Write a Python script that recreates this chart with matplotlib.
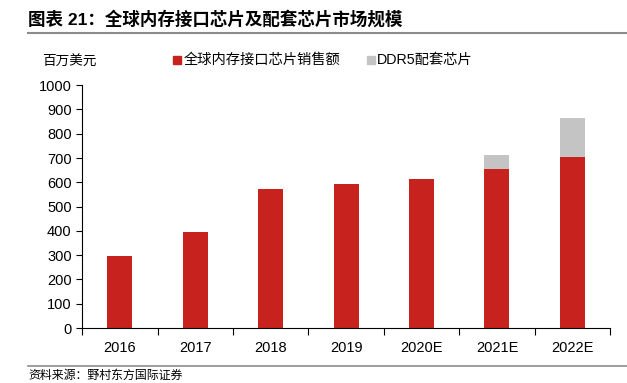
import numpy as np
import matplotlib
matplotlib.use('Agg')
import matplotlib.pyplot as plt
from matplotlib.patches import Rectangle

plt.rcParams['font.family'] = ['Liberation Sans', 'Noto Sans CJK SC', 'DejaVu Sans']
cjk = ['Noto Sans CJK SC', 'DejaVu Sans']

years = ['2016', '2017', '2018', '2019', '2020E', '2021E', '2022E']
chip_sales = [295, 395, 572, 592, 614, 655, 705]
ddr5_chips = [0, 0, 0, 0, 0, 58, 160]

red = '#C8221F'
grey = '#C4C4C4'

fig = plt.figure(figsize=(6.27, 3.83), dpi=100)
ax = fig.add_axes([0.131, 0.1436, 0.842, 0.634])

x = np.arange(len(years))
w = 0.33
ax.bar(x, chip_sales, w, color=red, label='全球内存接口芯片销售额')
ax.bar(x, ddr5_chips, w, bottom=chip_sales, color=grey, label='DDR5配套芯片')

ax.set_xlim(-0.5, len(years) - 0.5)
ax.set_ylim(0, 1000)
ax.set_yticks(np.arange(0, 1001, 100))
ax.tick_params(axis='y', labelsize=10.5, length=4, width=0.8)
ax.set_xticks(x)
ax.set_xticklabels(years, fontsize=10.5)
ax.tick_params(axis='x', length=0, pad=9)
ax.set_xticks(np.arange(-0.5, len(years), 1), minor=True)
ax.tick_params(axis='x', which='minor', length=5, width=0.8)
for s in ['top', 'right']:
    ax.spines[s].set_visible(False)

# legend drawn by hand at top
fig.add_artist(Rectangle((173 / 627, 1 - 64 / 383), 8 / 627, 8 / 383,
                         transform=fig.transFigure, color=red))
fig.text(184 / 627, 1 - 60 / 383, '全球内存接口芯片销售额', family=cjk,
         fontsize=10.3, va='center')
fig.add_artist(Rectangle((367 / 627, 1 - 64 / 383), 8 / 627, 8 / 383,
                         transform=fig.transFigure, color=grey))
fig.text(377 / 627, 1 - 60 / 383, 'DDR5配套芯片', family=['Liberation Sans', 'Noto Sans CJK SC'],
         fontsize=10.3, va='center')
fig.text(42 / 627, 1 - 62 / 383, '百万美元', family=cjk, fontsize=9.8, va='center')

# title and rules
fig.text(28 / 627, 1 - 19 / 383, '图表 21：全球内存接口芯片及配套芯片市场规模',
         family=['Liberation Sans', 'Noto Sans CJK SC'], fontsize=12.6,
         fontweight='bold', va='center')
fig.add_artist(plt.Line2D([28 / 627, 1], [1 - 33 / 383, 1 - 33 / 383],
                          transform=fig.transFigure, color='#8C8C8C', lw=1.5))
fig.add_artist(plt.Line2D([28 / 627, 1], [1 - 366 / 383, 1 - 366 / 383],
                          transform=fig.transFigure, color='#8C8C8C', lw=1.2))
fig.text(28 / 627, 1 - 375 / 383, '资料来源：野村东方国际证券', family=cjk,
         fontsize=8.6, va='center')

fig.savefig('out.png', dpi=100)
